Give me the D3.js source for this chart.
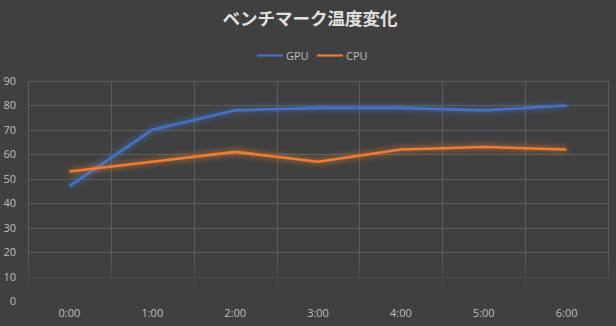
<!DOCTYPE html>
<html><head><meta charset="utf-8">
<script src="https://cdn.jsdelivr.net/npm/d3@7"></script>
<style>html,body{margin:0;padding:0;background:#404040;}svg{display:block;}</style>
</head><body>
<script>
const categories = ["0:00","1:00","2:00","3:00","4:00","5:00","6:00"];
const gpuValues = [47, 70, 78, 79, 79, 78, 80];
const cpuValues = [53, 57, 61, 57, 62, 63, 62];
const yTicks = [0,10,20,30,40,50,60,70,80,90];
const seriesNames = ["GPU","CPU"];
const seriesColors = ["#4472C4","#ED7D31"];
const titleText = "ベンチマーク温度変化";

const W = 616, H = 326;
const m = {left:28, right:8, top:81, bottom:25};
const svg = d3.select("body").append("svg").attr("width",W).attr("height",H);
svg.append("rect").attr("width",W).attr("height",H).attr("fill","#404040");

const defs = svg.append("defs");
const glow = defs.append("filter").attr("id","glow").attr("x","-20%").attr("y","-50%").attr("width","140%").attr("height","200%");
glow.append("feGaussianBlur").attr("in","SourceGraphic").attr("stdDeviation",3).attr("result","b");
const mg = glow.append("feMerge");
mg.append("feMergeNode").attr("in","b");
mg.append("feMergeNode").attr("in","SourceGraphic");

const fade = defs.append("linearGradient").attr("id","fade").attr("x1",0).attr("x2",0).attr("gradientUnits","userSpaceOnUse")
  .attr("y1",255).attr("y2",292);
fade.append("stop").attr("offset",0).attr("stop-color","#fff").attr("stop-opacity",1);
fade.append("stop").attr("offset",1).attr("stop-color","#fff").attr("stop-opacity",0);
defs.append("mask").attr("id","gmask").attr("maskUnits","userSpaceOnUse")
  .append("rect").attr("x",0).attr("y",0).attr("width",W).attr("height",H).attr("fill","url(#fade)");

const x = d3.scaleBand().domain(categories).range([m.left, W-m.right]);
const y = d3.scaleLinear().domain([0,90]).range([H-m.bottom, m.top]);

const grid = svg.append("g").attr("mask","url(#gmask)");
grid.selectAll("line.h").data(yTicks.filter(d=>d>0)).join("line")
  .attr("x1",m.left).attr("x2",W-m.right)
  .attr("y1",d=>Math.round(y(d))+0.5).attr("y2",d=>Math.round(y(d))+0.5)
  .attr("stroke","#5e5e5e").attr("stroke-width",1);
const bounds = categories.map(c=>x(c)).concat([x(categories[categories.length-1])+x.bandwidth()]);
grid.selectAll("line.v").data(bounds).join("line")
  .attr("x1",d=>Math.round(d)+0.5).attr("x2",d=>Math.round(d)+0.5)
  .attr("y1",y(90)).attr("y2",y(0))
  .attr("stroke","#5e5e5e").attr("stroke-width",1);

const yAxis = d3.axisLeft(y).tickValues(yTicks).tickSize(0).tickPadding(6);
const ya = svg.append("g").attr("transform",`translate(${m.left-2},0)`).call(yAxis);
ya.select(".domain").remove();
ya.selectAll("text").attr("fill","#bfbfbf").style("font-family","'Open Sans','Liberation Sans',sans-serif").style("font-size","11px").attr("text-anchor","end").attr("x",-10);

const xAxis = d3.axisBottom(x).tickSize(0).tickPadding(8);
const xa = svg.append("g").attr("transform",`translate(0,${y(0)})`).call(xAxis);
xa.select(".domain").remove();
xa.selectAll("text").attr("fill","#bfbfbf").style("font-family","'Open Sans','Liberation Sans',sans-serif").style("font-size","11px");

const line = d3.line().x((d,i)=>x(categories[i])+x.bandwidth()/2).y(d=>y(d));
[gpuValues, cpuValues].forEach((vals,i)=>{
  svg.append("path").datum(vals).attr("d",line).attr("fill","none")
    .attr("stroke",seriesColors[i]).attr("stroke-width",2.6).attr("stroke-linejoin","round")
    .attr("filter","url(#glow)");
});

svg.append("text").attr("x",310).attr("y",25).attr("text-anchor","middle")
  .attr("fill","#e0e0e0").style("font-family","'Noto Sans CJK JP',sans-serif")
  .style("font-size","17.5px").style("font-weight","bold").text(titleText);

const lg = svg.append("g");
const legendX = [257, 317];
seriesNames.forEach((n,i)=>{
  lg.append("line").attr("x1",legendX[i]).attr("x2",legendX[i]+26).attr("y1",55.5).attr("y2",55.5)
    .attr("stroke",seriesColors[i]).attr("stroke-width",2.2);
  lg.append("text").attr("x",legendX[i]+29).attr("y",59.5).attr("fill","#bfbfbf")
    .style("font-family","'Open Sans','Liberation Sans',sans-serif").style("font-size","11px").text(n);
});
</script>
</body></html>
